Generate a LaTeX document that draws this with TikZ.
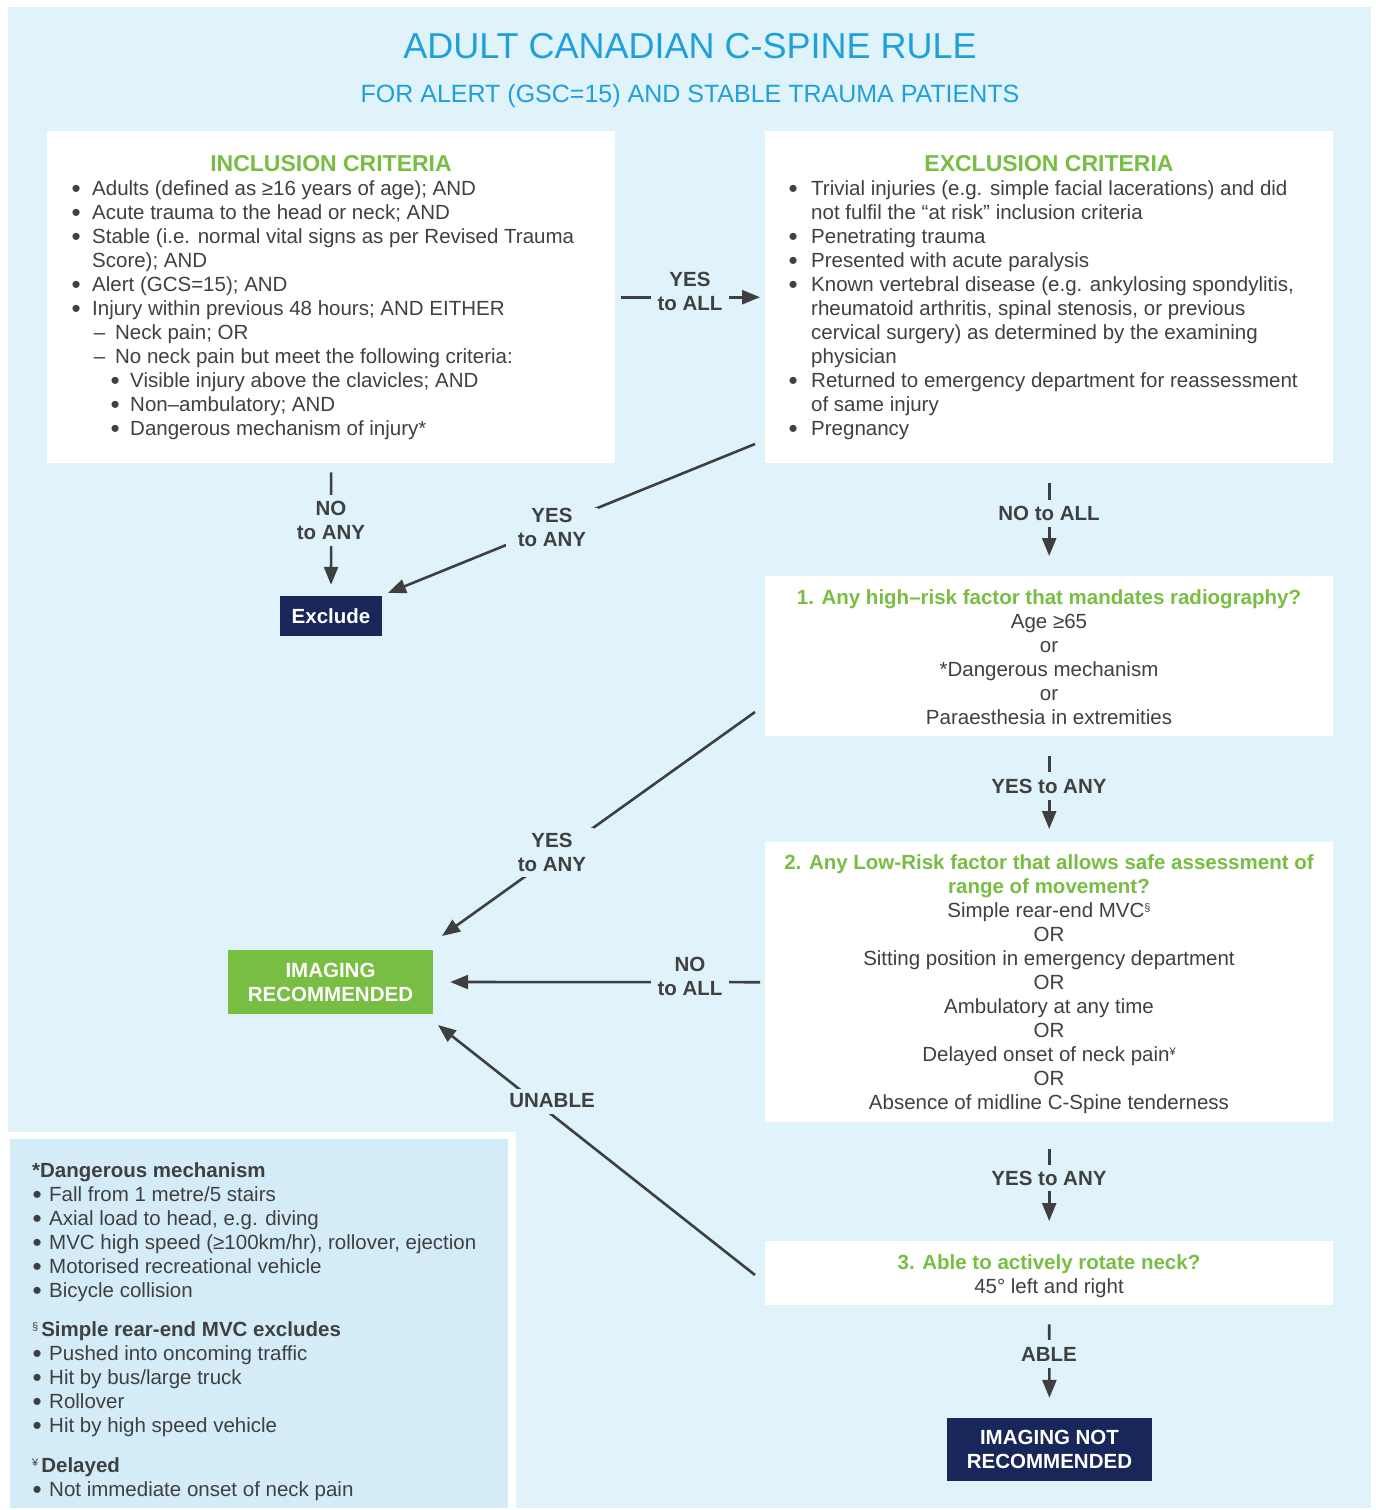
\documentclass[tikz,border=0pt]{standalone}
\usepackage{fontspec}
\setmainfont{Liberation Sans}
\usetikzlibrary{arrows.meta,calc}
\definecolor{bgblue}{HTML}{E0F3FB}
\definecolor{footblue}{HTML}{D4EBF8}
\definecolor{titleblue}{HTML}{1FA0DA}
\definecolor{critgreen}{HTML}{78BE43}
\definecolor{navy}{HTML}{18265A}
\definecolor{txtgray}{HTML}{404041}
\definecolor{arrgray}{HTML}{3F3F3F}
\newcommand\bodyfs{\fontsize{20.5}{24}\selectfont}
\newcommand\bul[1]{\llap{\raisebox{-2pt}{\fontsize{26}{24}\selectfont\textbullet}\hspace{#1}}}
\newcommand\supm[1]{\raisebox{6pt}{\fontsize{11}{11}\selectfont #1}}
\begin{document}
\begin{tikzpicture}[x=1pt,y=-1pt,
  wbox/.style={fill=white,draw=none,inner sep=0pt,anchor=north west},
  tl/.style={anchor=base west,inner sep=0pt,font=\bodyfs,text=txtgray},
  tc/.style={anchor=base,inner sep=0pt,font=\bodyfs,text=txtgray},
  gt/.style={anchor=base,inner sep=0pt,font=\bodyfs\bfseries,text=critgreen},
  lbl/.style={fill=bgblue,inner sep=0pt,font=\bodyfs\bfseries,text=txtgray,align=center},
  ln/.style={draw=arrgray,line width=2.6pt},
  arr/.style={ln,-{Triangle[length=18pt,width=14pt]}},
  endbox/.style={inner sep=0pt,font=\bodyfs\bfseries,text=white,align=center},
]
\useasboundingbox (0,0) rectangle (1376,1510);
% backgrounds
\fill[bgblue] (8,7) rectangle (1371,1508);
\fill[white] (0,1132) rectangle (516,1510);
\fill[footblue] (10,1139) rectangle (508,1508);

% title
\node[anchor=base,inner sep=0pt,font=\fontsize{36}{36}\selectfont,text=titleblue] (title) at (690,58) {ADULT CANADIAN C-SPINE RULE};
\node[anchor=base,inner sep=0pt,font=\fontsize{25}{25}\selectfont,text=titleblue] (subtitle) at (690,102) {FOR ALERT (GSC=15) AND STABLE TRAUMA PATIENTS};

% boxes
\node[wbox,minimum width=568pt,minimum height=332pt] (inc) at (47,131) {};
\node[wbox,minimum width=568pt,minimum height=332pt] (exc) at (765,131) {};
\node[wbox,minimum width=568pt,minimum height=160pt] (b1) at (765,576) {};
\node[wbox,minimum width=568pt,minimum height=280pt] (b2) at (765,842) {};
\node[wbox,minimum width=568pt,minimum height=64pt] (b3) at (765,1241) {};

% end nodes
\node[endbox,fill=navy,minimum width=102pt,minimum height=40pt] (exclude) at (331,616) {Exclude};
\node[endbox,fill=critgreen,minimum width=205pt,minimum height=64pt] (img) at (330.5,982) {IMAGING\\RECOMMENDED};
\node[endbox,fill=navy,minimum width=205pt,minimum height=63pt] (notimg) at (1049.5,1449.5) {IMAGING NOT\\RECOMMENDED};

% connectors
\coordinate (y1a) at (755,444); \coordinate (y1b) at (388,593);
\coordinate (y2a) at (755,712); \coordinate (y2b) at (442,936);
\coordinate (u1a) at (755,1275); \coordinate (u1b) at (438,1025);
\draw[arr,shorten <=6pt,shorten >=5pt] (inc.east) -- (exc.west);
\draw[arr,shorten <=9pt,shorten >=11pt] (inc.south) -- (exclude.north);
\draw[arr] (y1a) -- (y1b);
\draw[arr,shorten <=20pt,shorten >=20pt] (exc.south) -- (b1.north);
\draw[arr,shorten <=20pt,shorten >=13pt] (b1.south) -- (b2.north);
\draw[arr] (y2a) -- (y2b);
\draw[arr,shorten <=5pt,shorten >=17pt] (b2.west) -- (img.east);
\draw[arr] (u1a) -- (u1b);
\draw[arr,shorten <=27pt,shorten >=20pt] (b2.south) -- (b3.north);
\draw[arr,shorten <=19pt,shorten >=20pt] (b3.south) -- (notimg.north);

% labels
\node[lbl,minimum width=78pt,minimum height=50pt] (L1) at (690,291) {YES\\to ALL};
\node[lbl,minimum width=80pt,minimum height=51pt] (L2) at (331,520.5) {NO\\to ANY};
\node[lbl,minimum width=92pt,minimum height=39pt] (L3) at (552,527) {YES\\to ANY};
\node[lbl,minimum height=27pt] (L4) at (1049,513.5) {NO to ALL};
\node[lbl,minimum height=28pt] (L5) at (1049,786) {YES to ANY};
\node[lbl,minimum width=84pt,minimum height=49pt] (L6) at (552,852.5) {YES\\to ANY};
\node[lbl,minimum width=78pt,minimum height=50pt] (L7) at (690,976) {NO\\to ALL};
\node[lbl,minimum width=94pt,minimum height=25pt] (L8) at (552,1101) {UNABLE};
\node[lbl,minimum height=26pt] (L9) at (1049,1178) {YES to ANY};
\node[lbl,minimum height=28pt] (L10) at (1049,1354) {ABLE};

% inclusion
\node[gt,font=\fontsize{23}{24}\selectfont\bfseries] (inct) at (331,171) {INCLUSION CRITERIA};
\node[tl] (i1) at (92,195) {\bul{11.5pt}Adults (defined as ≥16 years of age); AND};
\node[tl] (i2) at (92,219) {\bul{11.5pt}Acute trauma to the head or neck; AND};
\node[tl] (i3) at (92,243) {\bul{11.5pt}Stable (i.e. normal vital signs as per Revised Trauma};
\node[tl] (i4) at (92,267) {Score); AND};
\node[tl] (i5) at (92,291) {\bul{11.5pt}Alert (GCS=15); AND};
\node[tl] (i6) at (92,315) {\bul{11.5pt}Injury within previous 48 hours; AND EITHER};
\node[tl] (i7) at (115,339) {\llap{–\hspace{10pt}}Neck pain; OR};
\node[tl] (i8) at (115,363) {\llap{–\hspace{10pt}}No neck pain but meet the following criteria:};
\node[tl] (i9) at (130,387) {\bul{10.5pt}Visible injury above the clavicles; AND};
\node[tl] (i10) at (130,411) {\bul{10.5pt}Non–ambulatory; AND};
\node[tl] (i11) at (130,435) {\bul{10.5pt}Dangerous mechanism of injury*};

% exclusion
\node[gt,font=\fontsize{23}{24}\selectfont\bfseries] (exct) at (1049,171) {EXCLUSION CRITERIA};
\node[tl] (e1) at (811,195) {\bul{13.4pt}Trivial injuries (e.g. simple facial lacerations) and did};
\node[tl] (e2) at (811,219) {not fulfil the “at risk” inclusion criteria};
\node[tl] (e3) at (811,243) {\bul{13.4pt}Penetrating trauma};
\node[tl] (e4) at (811,267) {\bul{13.4pt}Presented with acute paralysis};
\node[tl] (e5) at (811,291) {\bul{13.4pt}Known vertebral disease (e.g. ankylosing spondylitis,};
\node[tl] (e6) at (811,315) {rheumatoid arthritis, spinal stenosis, or previous};
\node[tl] (e7) at (811,339) {cervical surgery) as determined by the examining};
\node[tl] (e8) at (811,363) {physician};
\node[tl] (e9) at (811,387) {\bul{13.4pt}Returned to emergency department for reassessment};
\node[tl] (e10) at (811,411) {of same injury};
\node[tl] (e11) at (811,435) {\bul{13.4pt}Pregnancy};

% box 1
\node[gt] (b1t) at (1049,604) {1. Any high–risk factor that mandates radiography?};
\node[tc] (b1a) at (1049,628) {Age ≥65};
\node[tc] (b1b) at (1049,652) {or};
\node[tc] (b1c) at (1049,676) {*Dangerous mechanism};
\node[tc] (b1d) at (1049,700) {or};
\node[tc] (b1e) at (1049,724) {Paraesthesia in extremities};

% box 2
\node[gt] (b2t) at (1049,869) {2. Any Low-Risk factor that allows safe assessment of};
\node[gt] (b2u) at (1049,893) {range of movement?};
\node[tc] (b2a) at (1049,917) {Simple rear-end MVC\supm{§}};
\node[tc] (b2b) at (1049,941) {OR};
\node[tc] (b2c) at (1049,965) {Sitting position in emergency department};
\node[tc] (b2d) at (1049,989) {OR};
\node[tc] (b2e) at (1049,1013) {Ambulatory at any time};
\node[tc] (b2f) at (1049,1037) {OR};
\node[tc] (b2g) at (1049,1061) {Delayed onset of neck pain\supm{¥}};
\node[tc] (b2h) at (1049,1085) {OR};
\node[tc] (b2i) at (1049,1109) {Absence of midline C-Spine tenderness};

% box 3
\node[gt] (b3t) at (1049,1269) {3. Able to actively rotate neck?};
\node[tc] (b3a) at (1049,1293) {45° left and right};

% footnotes
\node[tl,font=\bodyfs\bfseries] (f1) at (32,1177) {*Dangerous mechanism};
\node[tl] (f2) at (49,1201) {\bul{7.5pt}Fall from 1 metre/5 stairs};
\node[tl] (f3) at (49,1225) {\bul{7.5pt}Axial load to head, e.g. diving};
\node[tl] (f4) at (49,1249) {\bul{7.5pt}MVC high speed (≥100km/hr), rollover, ejection};
\node[tl] (f5) at (49,1273) {\bul{7.5pt}Motorised recreational vehicle};
\node[tl] (f6) at (49,1297) {\bul{7.5pt}Bicycle collision};
\node[tl] (f7) at (32,1336) {\supm{§}\hspace{3pt}\textbf{Simple rear-end MVC excludes}};
\node[tl] (f8) at (49,1360) {\bul{7.5pt}Pushed into oncoming traffic};
\node[tl] (f9) at (49,1384) {\bul{7.5pt}Hit by bus/large truck};
\node[tl] (f10) at (49,1408) {\bul{7.5pt}Rollover};
\node[tl] (f11) at (49,1432) {\bul{7.5pt}Hit by high speed vehicle};
\node[tl] (f12) at (32,1472) {\supm{¥}\hspace{3pt}\textbf{Delayed}};
\node[tl] (f13) at (49,1496) {\bul{7.5pt}Not immediate onset of neck pain};
\end{tikzpicture}
\end{document}
